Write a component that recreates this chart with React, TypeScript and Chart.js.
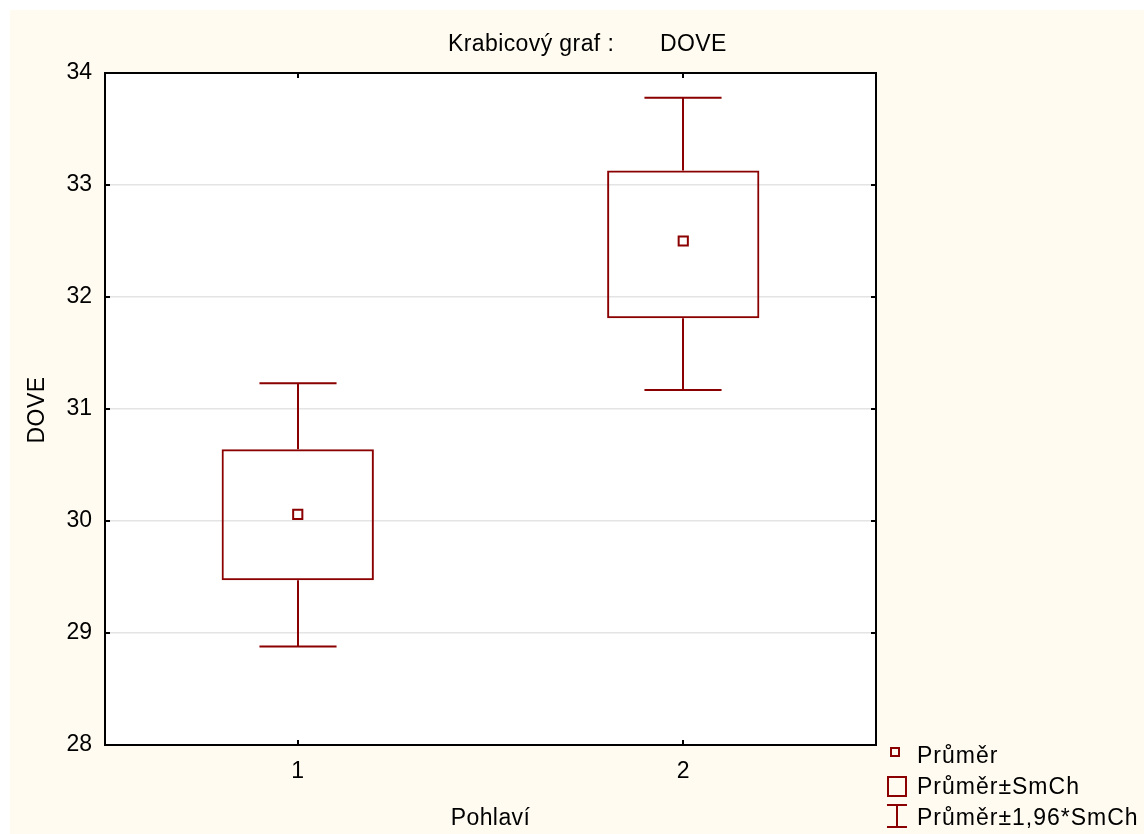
import React, { useEffect, useRef } from 'react';
import { Chart, registerables } from 'chart.js';

Chart.register(...registerables);

const categories = ['1', '2'];
const means = [30.06, 32.5];
const boxLow = [29.47, 31.81];
const boxHigh = [30.64, 33.13];
const whiskerLow = [28.88, 31.17];
const whiskerHigh = [31.23, 33.78];
const yMin = 28;
const yMax = 34;

const titleLeft = 'Krabicový graf :';
const titleRight = 'DOVE';
const yTitle = 'DOVE';
const xTitle = 'Pohlaví';
const legendLabels = ['Průměr', 'Průměr±SmCh', 'Průměr±1,96*SmCh'];

const DARK = '#8B0000';
const CREAM = '#fffbf0';
const FONT = "'Liberation Sans', Arial, sans-serif";

const decorPlugin = {
  id: 'decor',
  beforeDraw(chart: any) {
    const { ctx, chartArea } = chart;
    ctx.save();
    ctx.fillStyle = '#ffffff';
    ctx.fillRect(0, 0, chart.width, chart.height);
    ctx.fillStyle = CREAM;
    ctx.fillRect(10, 10, chart.width - 10, chart.height - 10);
    ctx.fillStyle = '#ffffff';
    ctx.fillRect(chartArea.left, chartArea.top, chartArea.right - chartArea.left, chartArea.bottom - chartArea.top);
    ctx.restore();
  },
  afterDatasetsDraw(chart: any) {
    const { ctx } = chart;
    const xs = chart.scales.x;
    const ys = chart.scales.y;
    const catW = xs.getPixelForValue(1) - xs.getPixelForValue(0);
    const capHalf = catW * 0.1;
    ctx.save();
    ctx.strokeStyle = DARK;
    ctx.lineWidth = 2;
    for (let i = 0; i < categories.length; i++) {
      const x = Math.round(xs.getPixelForValue(i));
      const yBH = ys.getPixelForValue(boxHigh[i]);
      const yWH = ys.getPixelForValue(whiskerHigh[i]);
      const yBL = ys.getPixelForValue(boxLow[i]);
      const yWL = ys.getPixelForValue(whiskerLow[i]);
      ctx.beginPath();
      ctx.moveTo(x, yBH);
      ctx.lineTo(x, yWH);
      ctx.moveTo(x - capHalf, yWH);
      ctx.lineTo(x + capHalf, yWH);
      ctx.moveTo(x, yBL);
      ctx.lineTo(x, yWL);
      ctx.moveTo(x - capHalf, yWL);
      ctx.lineTo(x + capHalf, yWL);
      ctx.stroke();
    }
    ctx.restore();
  },
  afterDraw(chart: any) {
    const { ctx, chartArea } = chart;
    const xs = chart.scales.x;
    const ys = chart.scales.y;
    ctx.save();
    // frame
    ctx.strokeStyle = '#000';
    ctx.lineWidth = 2;
    ctx.strokeRect(chartArea.left, chartArea.top, chartArea.right - chartArea.left, chartArea.bottom - chartArea.top);
    // inner ticks
    ctx.beginPath();
    ys.ticks.forEach((t: any) => {
      const y = ys.getPixelForValue(t.value);
      ctx.moveTo(chartArea.left, y);
      ctx.lineTo(chartArea.left + 5, y);
      ctx.moveTo(chartArea.right, y);
      ctx.lineTo(chartArea.right - 5, y);
    });
    for (let i = 0; i < categories.length; i++) {
      const x = Math.round(xs.getPixelForValue(i));
      ctx.moveTo(x, chartArea.bottom);
      ctx.lineTo(x, chartArea.bottom - 5);
      ctx.moveTo(x, chartArea.top);
      ctx.lineTo(x, chartArea.top + 5);
    }
    ctx.stroke();

    // texts
    ctx.fillStyle = '#000';
    ctx.font = `23px ${FONT}`;
    ctx.textBaseline = 'alphabetic';
    ctx.textAlign = 'left';
    (ctx as any).letterSpacing = '0.4px';
    ctx.fillText(titleLeft, 448, 51);
    ctx.fillText(titleRight, 660, 51);

    ctx.textAlign = 'center';
    ctx.fillText(xTitle, (chartArea.left + chartArea.right) / 2, 825);

    ctx.save();
    ctx.translate(44, 410);
    ctx.rotate(-Math.PI / 2);
    ctx.fillText(yTitle, 0, 0);
    ctx.restore();

    // legend
    ctx.textAlign = 'left';
    (ctx as any).letterSpacing = '1px';
    const tx = 917;
    const baselines = [763, 794, 825];
    legendLabels.forEach((l, i) => ctx.fillText(l, tx, baselines[i]));
    (ctx as any).letterSpacing = '0px';
    ctx.strokeStyle = DARK;
    ctx.lineWidth = 2;
    ctx.strokeRect(891, 748, 8, 8);
    ctx.strokeRect(888, 777, 18, 19);
    ctx.beginPath();
    ctx.moveTo(887, 805);
    ctx.lineTo(907, 805);
    ctx.moveTo(897, 805);
    ctx.lineTo(897, 827);
    ctx.moveTo(887, 827);
    ctx.lineTo(907, 827);
    ctx.stroke();
    ctx.restore();
  },
};

export default function App() {
  const ref = useRef<HTMLCanvasElement | null>(null);
  useEffect(() => {
    document.body.style.margin = '0';
    if (!ref.current) return;
    const chart = new Chart(ref.current, {
      type: 'bar',
      data: {
        labels: categories,
        datasets: [
          {
            type: 'bar',
            label: legendLabels[1],
            data: categories.map((_, i) => [boxLow[i], boxHigh[i]]) as any,
            backgroundColor: 'rgba(0,0,0,0)',
            borderColor: DARK,
            borderWidth: 2,
            borderSkipped: false,
            barPercentage: 0.395,
            categoryPercentage: 1,
            order: 2,
          } as any,
          {
            type: 'line',
            label: legendLabels[0],
            data: means,
            showLine: false,
            pointStyle: 'rect',
            pointRadius: 6.5,
            pointBorderWidth: 2,
            pointBorderColor: DARK,
            pointBackgroundColor: '#ffffff',
            order: 1,
          } as any,
        ],
      },
      options: {
        responsive: false,
        animation: false,
        layout: { padding: { top: 73, right: 268, left: 0, bottom: 0 } },
        plugins: { legend: { display: false }, tooltip: { enabled: false }, title: { display: false } },
        scales: {
          x: {
            type: 'category',
            offset: true,
            grid: { display: false, drawTicks: false },
            border: { display: false },
            ticks: { color: '#000', font: { size: 23, family: FONT }, padding: 13 },
            afterFit: (s: any) => { s.height = 89; },
          },
          y: {
            type: 'linear',
            min: yMin,
            max: yMax,
            grid: { color: '#e4e4e4', lineWidth: 1.5, drawTicks: false },
            border: { display: false },
            ticks: { stepSize: 1, color: '#000', font: { size: 23, family: FONT }, padding: 13 },
            afterFit: (s: any) => { s.width = 105; },
          },
        },
      },
      plugins: [decorPlugin],
    });
    return () => chart.destroy();
  }, []);
  return (
    <div style={{ width: 1144, height: 834 }}>
      <canvas ref={ref} width={1144} height={834} style={{ display: 'block' }} />
    </div>
  );
}
